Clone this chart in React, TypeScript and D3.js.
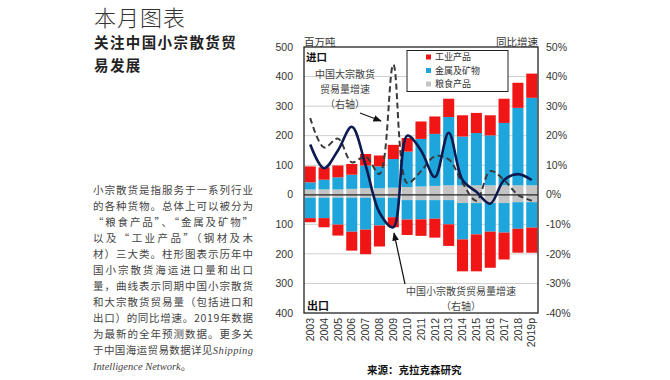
import React from "react";
import * as d3 from "d3";

const years = ["2003","2004","2005","2006","2007","2008","2009","2010","2011","2012","2013","2014","2015","2016","2017","2018","2019p"];
const importGrain = [18,18,18,20,22,22,24,26,28,30,32,32,32,32,32,32,32];
const importMetals = [24,33,41,48,77,74,97,120,161,176,231,165,177,169,211,262,296];
const importIndustrial = [54,42,40,36,39,37,48,46,59,59,62,72,68,68,82,85,82];
const exportGrain = [10,10,10,10,10,10,10,18,18,18,18,28,28,28,28,25,25];
const exportMetals = [69,69,91,115,108,94,66,66,65,63,82,123,106,97,100,90,86];
const exportIndustrial = [14,31,37,64,83,71,34,52,56,64,73,108,125,122,91,81,85];
const minorGrowth = [17,9,15,23,10,-6,-11,20,15,6,21,5,1,-3,5,7,5];
const majorGrowth = [26,16,19,11,13,7,44,4,8,13,12,4,-2,8,5,0,-2];
const leftTicks = [500,400,300,200,100,0,-100,-200,-300,-400];
const rightTicks = [50,40,30,20,10,0,-10,-20,-30,-40];
const legendLabels = ["工业产品","金属及矿物","粮食产品"];
const paragraph = [
  "小宗散货是指服务于一系列行业",
  "的各种货物。总体上可以被分为",
  "“粮食产品”、“金属及矿物”",
  "以及“工业产品”（钢材及木",
  "材）三大类。柱形图表示历年中",
  "国小宗散货海运进口量和出口",
  "量，曲线表示同期中国小宗散货",
  "和大宗散货贸易量（包括进口和",
  "出口）的同比增速。2019年数据",
  "为最新的全年预测数据。更多关",
];

const COLORS: Record<string,string> = { grain: "#c4c4c4", metals: "#1ea6dc", industrial: "#f01616" };
const CJK = "'Noto Sans CJK SC', 'Noto Sans', sans-serif";
const LAT = "'Liberation Sans', Arial, sans-serif";

export default function App() {
  const x = d3.scaleBand<string>().domain(years).range([304, 538]).paddingInner(0.2).paddingOuter(0.05);
  const yL = d3.scaleLinear().domain([-400, 500]).range([313, 47]);
  const yR = d3.scaleLinear().domain([-40, 50]).range([313, 47]);
  const keys = ["grain", "metals", "industrial"];

  const importRows = years.map((yr, i) => ({ year: yr, grain: importGrain[i], metals: importMetals[i], industrial: importIndustrial[i] }));
  const exportRows = years.map((yr, i) => ({ year: yr, grain: -exportGrain[i], metals: -exportMetals[i], industrial: -exportIndustrial[i] }));
  const stack = d3.stack<any>().keys(keys).offset(d3.stackOffsetDiverging);
  const importSeries = stack(importRows);
  const exportSeries = stack(exportRows);

  const cx = (yr: string) => (x(yr) as number) + x.bandwidth() / 2;
  const line = d3.line<number>().x((_, i) => cx(years[i])).y((v) => yR(v)).curve(d3.curveCatmullRom.alpha(0.5));

  const bars = (series: any[], tag: string) =>
    series.map((s) => (
      <g key={tag + s.key} fill={COLORS[s.key]}>
        {s.map((d: any, i: number) => (
          <rect key={i} x={x(years[i])} width={x.bandwidth()} y={yL(Math.max(d[0], d[1]))} height={Math.abs(yL(d[0]) - yL(d[1]))} />
        ))}
      </g>
    ));

  return (
    <svg width={670} height={380} style={{ position: "absolute", left: 0, top: 0, background: "#fff" }}>
      <defs>
        <marker id="ah" viewBox="0 0 10 10" refX="9" refY="5" markerWidth="7" markerHeight="7" orient="auto-start-reverse">
          <path d="M0,1 L10,5 L0,9 z" fill="#111" />
        </marker>
      </defs>
      {/* left text */}
      <text x={94} y={26} fontFamily={CJK} fontSize={22} fontWeight={300} fill="#333" letterSpacing={1}>本月图表</text>
      <text x={94} y={48} fontFamily={CJK} fontSize={14.5} fontWeight={700} fill="#222" letterSpacing={1.4}>关注中国小宗散货贸</text>
      <text x={94} y={71} fontFamily={CJK} fontSize={14.5} fontWeight={700} fill="#222" letterSpacing={1.4}>易发展</text>
      {paragraph.map((t, i) => (
        <text key={i} x={93} y={194 + i * 16} fontFamily={CJK} fontSize={10.5} fill="#444" textLength={160} lengthAdjust="spacing">{t}</text>
      ))}
      <text x={93} y={194 + 10 * 16} fontFamily={CJK} fontSize={10.5} fill="#444" textLength={160} lengthAdjust="spacing">
        于中国海运贸易数据详见<tspan fontFamily="'Liberation Serif', serif" fontStyle="italic">Shipping</tspan>
      </text>
      <text x={93} y={194 + 11 * 16} fontFamily={CJK} fontSize={10.5} fill="#444">
        <tspan fontFamily="'Liberation Serif', serif" fontStyle="italic">Intelligence Network</tspan>。
      </text>

      {/* gridlines */}
      {leftTicks.filter((t) => t !== 0 && t !== 500 && t !== -400).map((t) => (
        <line key={t} x1={304} x2={538} y1={yL(t)} y2={yL(t)} stroke="#cfcfcf" strokeWidth={1} />
      ))}
      {bars(importSeries, "i")}
      {bars(exportSeries, "e")}
      <line x1={304} x2={538} y1={yL(0)} y2={yL(0)} stroke="#222" strokeWidth={1.2} />
      {/* lines */}
      <path d={line(majorGrowth) as string} fill="none" stroke="#3a3a3a" strokeWidth={2} strokeDasharray="6,3.5" />
      <path d={line(minorGrowth) as string} fill="none" stroke="#0c1a4f" strokeWidth={2.6} />
      {/* frame */}
      <rect x={304} y={47} width={234} height={266} fill="none" stroke="#222" strokeWidth={1.3} />

      {/* axes labels */}
      {leftTicks.map((t) => (
        <text key={t} x={293} y={yL(t)} dy="0.35em" textAnchor="end" fontFamily={LAT} fontSize={10.5} fill="#333">{Math.abs(t)}</text>
      ))}
      {rightTicks.map((t) => (
        <text key={t} x={546} y={yR(t)} dy="0.35em" fontFamily={LAT} fontSize={10.5} fill="#333">{t + "%"}</text>
      ))}
      {years.map((yr) => (
        <text key={yr} transform={`translate(${cx(yr)},318) rotate(-90)`} dy="0.35em" textAnchor="end" fontFamily={LAT} fontSize={10.5} fill="#333">{yr}</text>
      ))}
      <text x={304} y={46} fontFamily={CJK} fontSize={10.5} fill="#333">百万吨</text>
      <text x={538} y={46} textAnchor="end" fontFamily={CJK} fontSize={10.5} fill="#333">同比增速</text>
      <text x={306} y={61} fontFamily={CJK} fontSize={10.5} fontWeight={700} fill="#111">进口</text>
      <text x={307} y={310} fontFamily={CJK} fontSize={11} fontWeight={700} fill="#111">出口</text>

      {/* legend */}
      <rect x={407} y={50.5} width={101} height={41} fill="#fff" stroke="#222" strokeWidth={1} />
      {legendLabels.map((l, i) => (
        <g key={l}>
          <rect x={426} y={54.5 + i * 13.5} width={5} height={5} fill={COLORS[["industrial", "metals", "grain"][i]]} />
          <text x={435} y={57 + i * 13.5} dy="0.35em" fontFamily={CJK} fontSize={9} fill="#333">{l}</text>
        </g>
      ))}

      {/* annotations */}
      <g fontFamily={CJK} fontSize={10} fill="#444" textAnchor="middle">
        <text x={345} y={78}>中国大宗散货</text>
        <text x={345} y={93}>贸易量增速</text>
        <text x={345} y={108}>（右轴）</text>
        <text x={461} y={295}>中国小宗散货贸易量增速</text>
        <text x={461} y={310}>（右轴）</text>
      </g>
      <line x1={360} y1={113} x2={381} y2={121} stroke="#111" strokeWidth={1.2} markerEnd="url(#ah)" />
      <line x1={405} y1={284} x2={394} y2={233} stroke="#111" strokeWidth={1.2} markerEnd="url(#ah)" />

      <text x={367} y={374} fontFamily={CJK} fontSize={10.5} fontWeight={700} fill="#111">来源：克拉克森研究</text>
    </svg>
  );
}
